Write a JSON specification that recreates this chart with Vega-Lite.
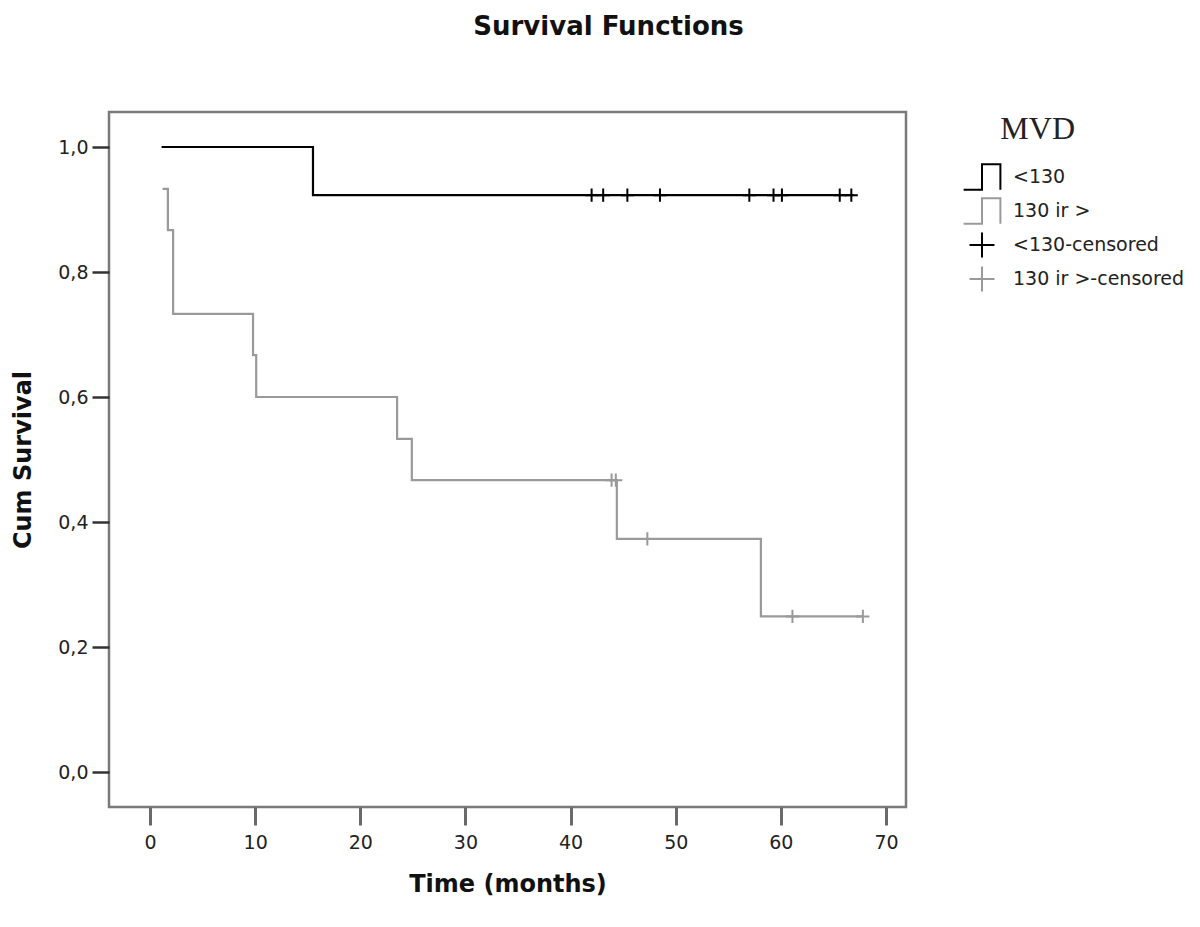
{
  "$schema": "https://vega.github.io/schema/vega-lite/v6.json",
  "autosize": {"type": "none"},
  "padding": {"left": 109, "top": 112, "right": 294, "bottom": 120},
  "width": 797,
  "height": 695,
  "background": "white",
  "title": {
    "text": "Survival Functions",
    "font": "DejaVu Sans",
    "fontSize": 26,
    "fontWeight": "bold",
    "color": "#111",
    "anchor": "middle",
    "dx": 101,
    "baseline": "alphabetic",
    "offset": 51
  },
  "config": {
    "view": {"stroke": "#7a7a7a", "strokeWidth": 2.5},
    "axis": {"grid": false, "domain": false}
  },
  "data": {
    "values": [
      {"kind": "line", "series": "<130", "t": 1.1, "s": 1.0},
      {"kind": "line", "series": "<130", "t": 15.5, "s": 0.923},
      {"kind": "line", "series": "<130", "t": 66.9, "s": 0.923},
      {"kind": "line", "series": "130 ir >", "t": 1.2, "s": 0.933},
      {"kind": "line", "series": "130 ir >", "t": 1.7, "s": 0.867},
      {"kind": "line", "series": "130 ir >", "t": 2.2, "s": 0.733},
      {"kind": "line", "series": "130 ir >", "t": 9.8, "s": 0.667},
      {"kind": "line", "series": "130 ir >", "t": 10.1, "s": 0.6},
      {"kind": "line", "series": "130 ir >", "t": 23.5, "s": 0.533},
      {"kind": "line", "series": "130 ir >", "t": 24.9, "s": 0.467},
      {"kind": "line", "series": "130 ir >", "t": 44.4, "s": 0.373},
      {"kind": "line", "series": "130 ir >", "t": 58.1, "s": 0.249},
      {"kind": "line", "series": "130 ir >", "t": 67.8, "s": 0.249},
      {"kind": "cens", "series": "<130-censored", "t": 42.0, "s": 0.923},
      {"kind": "cens", "series": "<130-censored", "t": 43.1, "s": 0.923},
      {"kind": "cens", "series": "<130-censored", "t": 45.4, "s": 0.923},
      {"kind": "cens", "series": "<130-censored", "t": 48.5, "s": 0.923},
      {"kind": "cens", "series": "<130-censored", "t": 57.0, "s": 0.923},
      {"kind": "cens", "series": "<130-censored", "t": 59.3, "s": 0.923},
      {"kind": "cens", "series": "<130-censored", "t": 60.1, "s": 0.923},
      {"kind": "cens", "series": "<130-censored", "t": 65.6, "s": 0.923},
      {"kind": "cens", "series": "<130-censored", "t": 66.7, "s": 0.923},
      {"kind": "cens", "series": "130 ir >-censored", "t": 43.9, "s": 0.467},
      {"kind": "cens", "series": "130 ir >-censored", "t": 44.3, "s": 0.467},
      {"kind": "cens", "series": "130 ir >-censored", "t": 47.3, "s": 0.373},
      {"kind": "cens", "series": "130 ir >-censored", "t": 61.1, "s": 0.249},
      {"kind": "cens", "series": "130 ir >-censored", "t": 67.8, "s": 0.249}
    ]
  },
  "encoding": {
    "x": {
      "field": "t", "type": "quantitative",
      "scale": {"domain": [-3.9, 71.9], "nice": false, "zero": false},
      "axis": {
        "title": "Time (months)",
        "values": [0, 10, 20, 30, 40, 50, 60, 70],
        "tickSize": 18, "tickWidth": 3, "tickColor": "#6a6a6a",
        "labelFont": "DejaVu Sans", "labelFontSize": 19, "labelColor": "#222",
        "labelPadding": 8,
        "titleFont": "DejaVu Sans", "titleFontSize": 24, "titleFontWeight": "bold", "titleColor": "#111",
        "titlePadding": 20
      }
    },
    "y": {
      "field": "s", "type": "quantitative",
      "scale": {"domain": [-0.056, 1.056], "nice": false, "zero": false},
      "axis": {
        "title": "Cum Survival",
        "values": [0, 0.2, 0.4, 0.6, 0.8, 1.0],
        "labelExpr": "replace(format(datum.value, '.1f'), '.', ',')",
        "tickSize": 17, "tickWidth": 2.5, "tickColor": "#333",
        "labelFont": "DejaVu Sans", "labelFontSize": 19, "labelColor": "#222",
        "labelPadding": 4,
        "titleFont": "DejaVu Sans", "titleFontSize": 24, "titleFontWeight": "bold", "titleColor": "#111",
        "titlePadding": 22
      }
    },
    "color": {
      "field": "series", "type": "nominal",
      "scale": {
        "domain": ["<130", "130 ir >", "<130-censored", "130 ir >-censored"],
        "range": ["#000000", "#9a9a9a", "#000000", "#9a9a9a"]
      },
      "legend": {
        "title": "MVD",
        "orient": "none",
        "legendX": 856,
        "legendY": 2,
        "padding": 0,
        "titleFont": "Liberation Serif",
        "titleFontSize": 32,
        "titleFontWeight": "normal",
        "titleColor": "#222",
        "titleAnchor": "middle",
        "titleAlign": "right",
        "titlePadding": 14,
        "labelFont": "DejaVu Sans",
        "labelFontSize": 19,
        "labelColor": "#222",
        "labelOffset": 14,
        "labelLimit": 400,
        "symbolSize": 1024,
        "symbolStrokeWidth": 2,
        "rowPadding": 0,
        "encode": {
          "symbols": {"update": {"fill": {"value": "transparent"}, "strokeWidth": {"value": 2}, "stroke": {"scale": "color", "field": "value"}}}
        }
      }
    }
  },
  "layer": [
    {
      "transform": [{"filter": "datum.kind === 'line'"}],
      "mark": {"type": "line", "interpolate": "step-after", "strokeWidth": 2.2},
      "encoding": {"detail": {"field": "series"}}
    },
    {
      "transform": [{"filter": "datum.kind === 'cens'"}],
      "mark": {"type": "point", "filled": false, "size": 278, "strokeWidth": 2, "opacity": 1},
      "encoding": {
        "shape": {
          "field": "series", "type": "nominal",
          "scale": {
            "domain": ["<130", "130 ir >", "<130-censored", "130 ir >-censored"],
            "range": ["M-1.15,0.8L0,0.8L0,-0.8L1.15,-0.8L1.15,0.8", "M-1.15,0.8L0,0.8L0,-0.8L1.15,-0.8L1.15,0.8", "M-0.78,0L0.78,0M0,-0.78L0,0.78", "M-0.78,0L0.78,0M0,-0.78L0,0.78"]
          },
          "legend": {
            "title": "MVD",
            "orient": "none",
            "legendX": 856,
            "legendY": 2
          }
        }
      }
    }
  ]
}
